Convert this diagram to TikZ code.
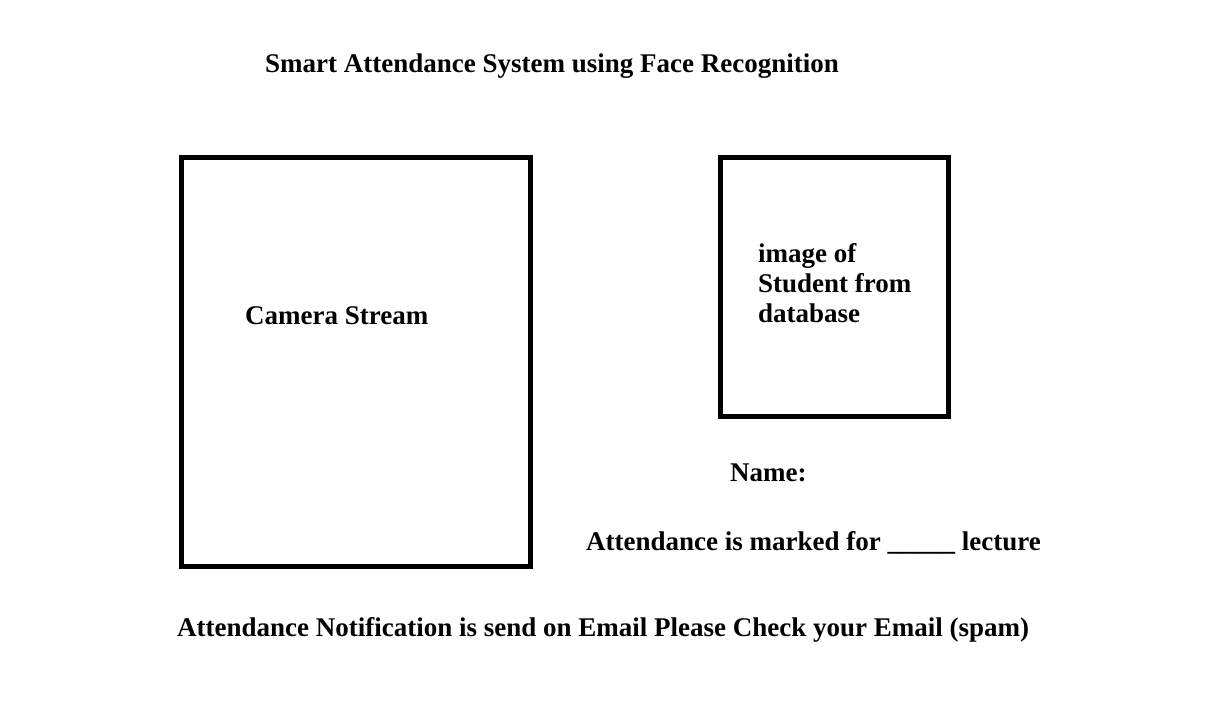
\documentclass[tikz,border=0pt]{standalone}
\usepackage{fontspec}
\setmainfont{Liberation Serif}
\begin{document}
\begin{tikzpicture}[x=1pt,y=-1pt,
  frame/.style={draw=black,line width=5pt},
  lbl/.style={font=\fontsize{27}{30}\selectfont\bfseries,anchor=base west,inner sep=0pt}]
\useasboundingbox (0,0) rectangle (1218,701);
\node[lbl] (title) at (265,73) {Smart Attendance System using Face Recognition};
\draw[frame] (181.5,157.5) rectangle (530.5,566.5);
\node[lbl] (cam) at (245,324) {Camera Stream};
\draw[frame] (720.5,157.5) rectangle (948.5,416.5);
\node[lbl,align=left,anchor=north west] (img) at (758,243.5) {image of\\Student from\\database};
\node[lbl] (name) at (730,481) {Name:};
\node[lbl] (att) at (586,550) {Attendance is marked for \_\_\_\_\_ lecture};
\node[lbl] (notif) at (177,636) {Attendance Notification is send on Email Please Check your Email (spam)};
\end{tikzpicture}
\end{document}
